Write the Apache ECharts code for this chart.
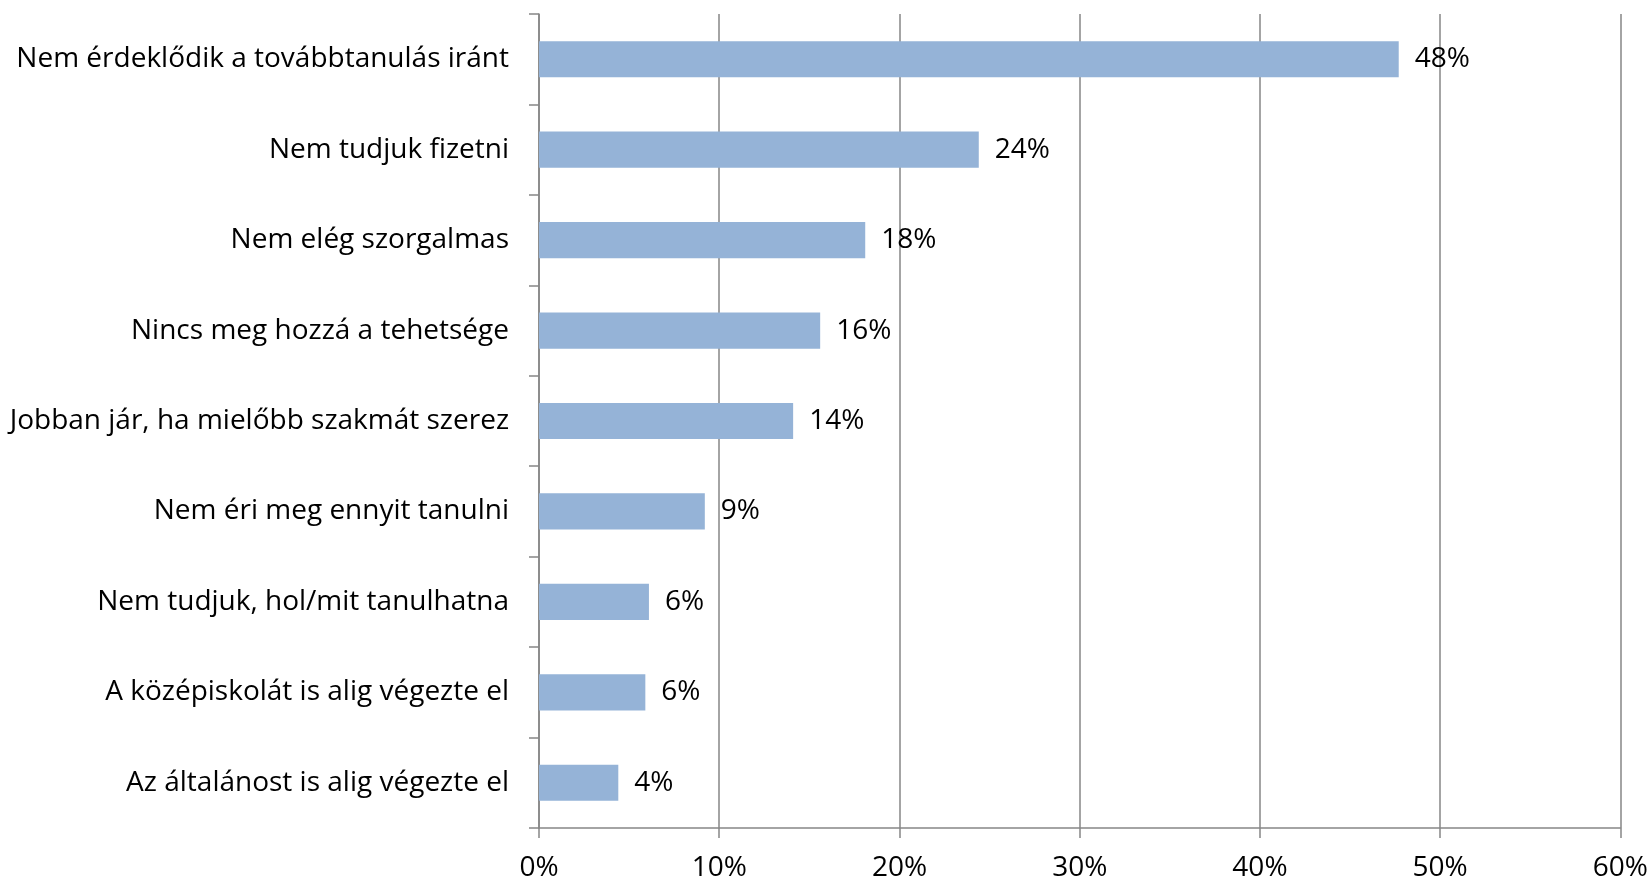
<!DOCTYPE html>
<html><head><meta charset="utf-8">
<script src="https://cdn.jsdelivr.net/npm/echarts@6/dist/echarts.min.js"></script>
<style>html,body{margin:0;padding:0;background:#fff}#c{width:1651px;height:884px}</style>
</head><body><div id="c"></div>
<script>
const categories = [
  "Nem érdeklődik a továbbtanulás iránt",
  "Nem tudjuk fizetni",
  "Nem elég szorgalmas",
  "Nincs meg hozzá a tehetsége",
  "Jobban jár, ha mielőbb szakmát szerez",
  "Nem éri meg ennyit tanulni",
  "Nem tudjuk, hol/mit tanulhatna",
  "A középiskolát is alig végezte el",
  "Az általánost is alig végezte el"
];
const values = [47.7, 24.4, 18.1, 15.6, 14.1, 9.2, 6.1, 5.9, 4.4];
const xTicks = [0, 10, 20, 30, 40, 50, 60];

const FONT = "'Open Sans', 'Noto Sans', sans-serif";
const chart = echarts.init(document.getElementById('c'));
chart.setOption({
  animation: false,
  grid: { left: 539, right: 29, top: 14, bottom: 56, containLabel: false },
  xAxis: {
    type: 'value', min: xTicks[0], max: xTicks[xTicks.length - 1], interval: 10,
    axisLine: { show: true, lineStyle: { color: '#868686', width: 1.5 } },
    axisTick: { show: true, length: 10, lineStyle: { color: '#868686', width: 1.5 } },
    splitLine: { show: true, lineStyle: { color: '#868686', width: 1.5 } },
    axisLabel: { formatter: v => v + '%', color: '#000', fontSize: 28, fontFamily: FONT, margin: 26 }
  },
  yAxis: {
    type: 'category', data: categories, inverse: true,
    axisLine: { show: true, lineStyle: { color: '#868686', width: 1.5 } },
    axisTick: { show: true, length: 10, lineStyle: { color: '#868686', width: 1.5 } },
    axisLabel: { color: '#000', fontSize: 28, fontFamily: FONT, margin: 30 }
  },
  series: [{
    type: 'bar', data: values, barCategoryGap: '60%',
    itemStyle: { color: '#95B3D7' },
    label: { show: true, position: 'right', distance: 16, color: '#000', fontSize: 28, fontFamily: FONT,
      formatter: p => Math.round(p.value) + '%' }
  }]
});
</script></body></html>
